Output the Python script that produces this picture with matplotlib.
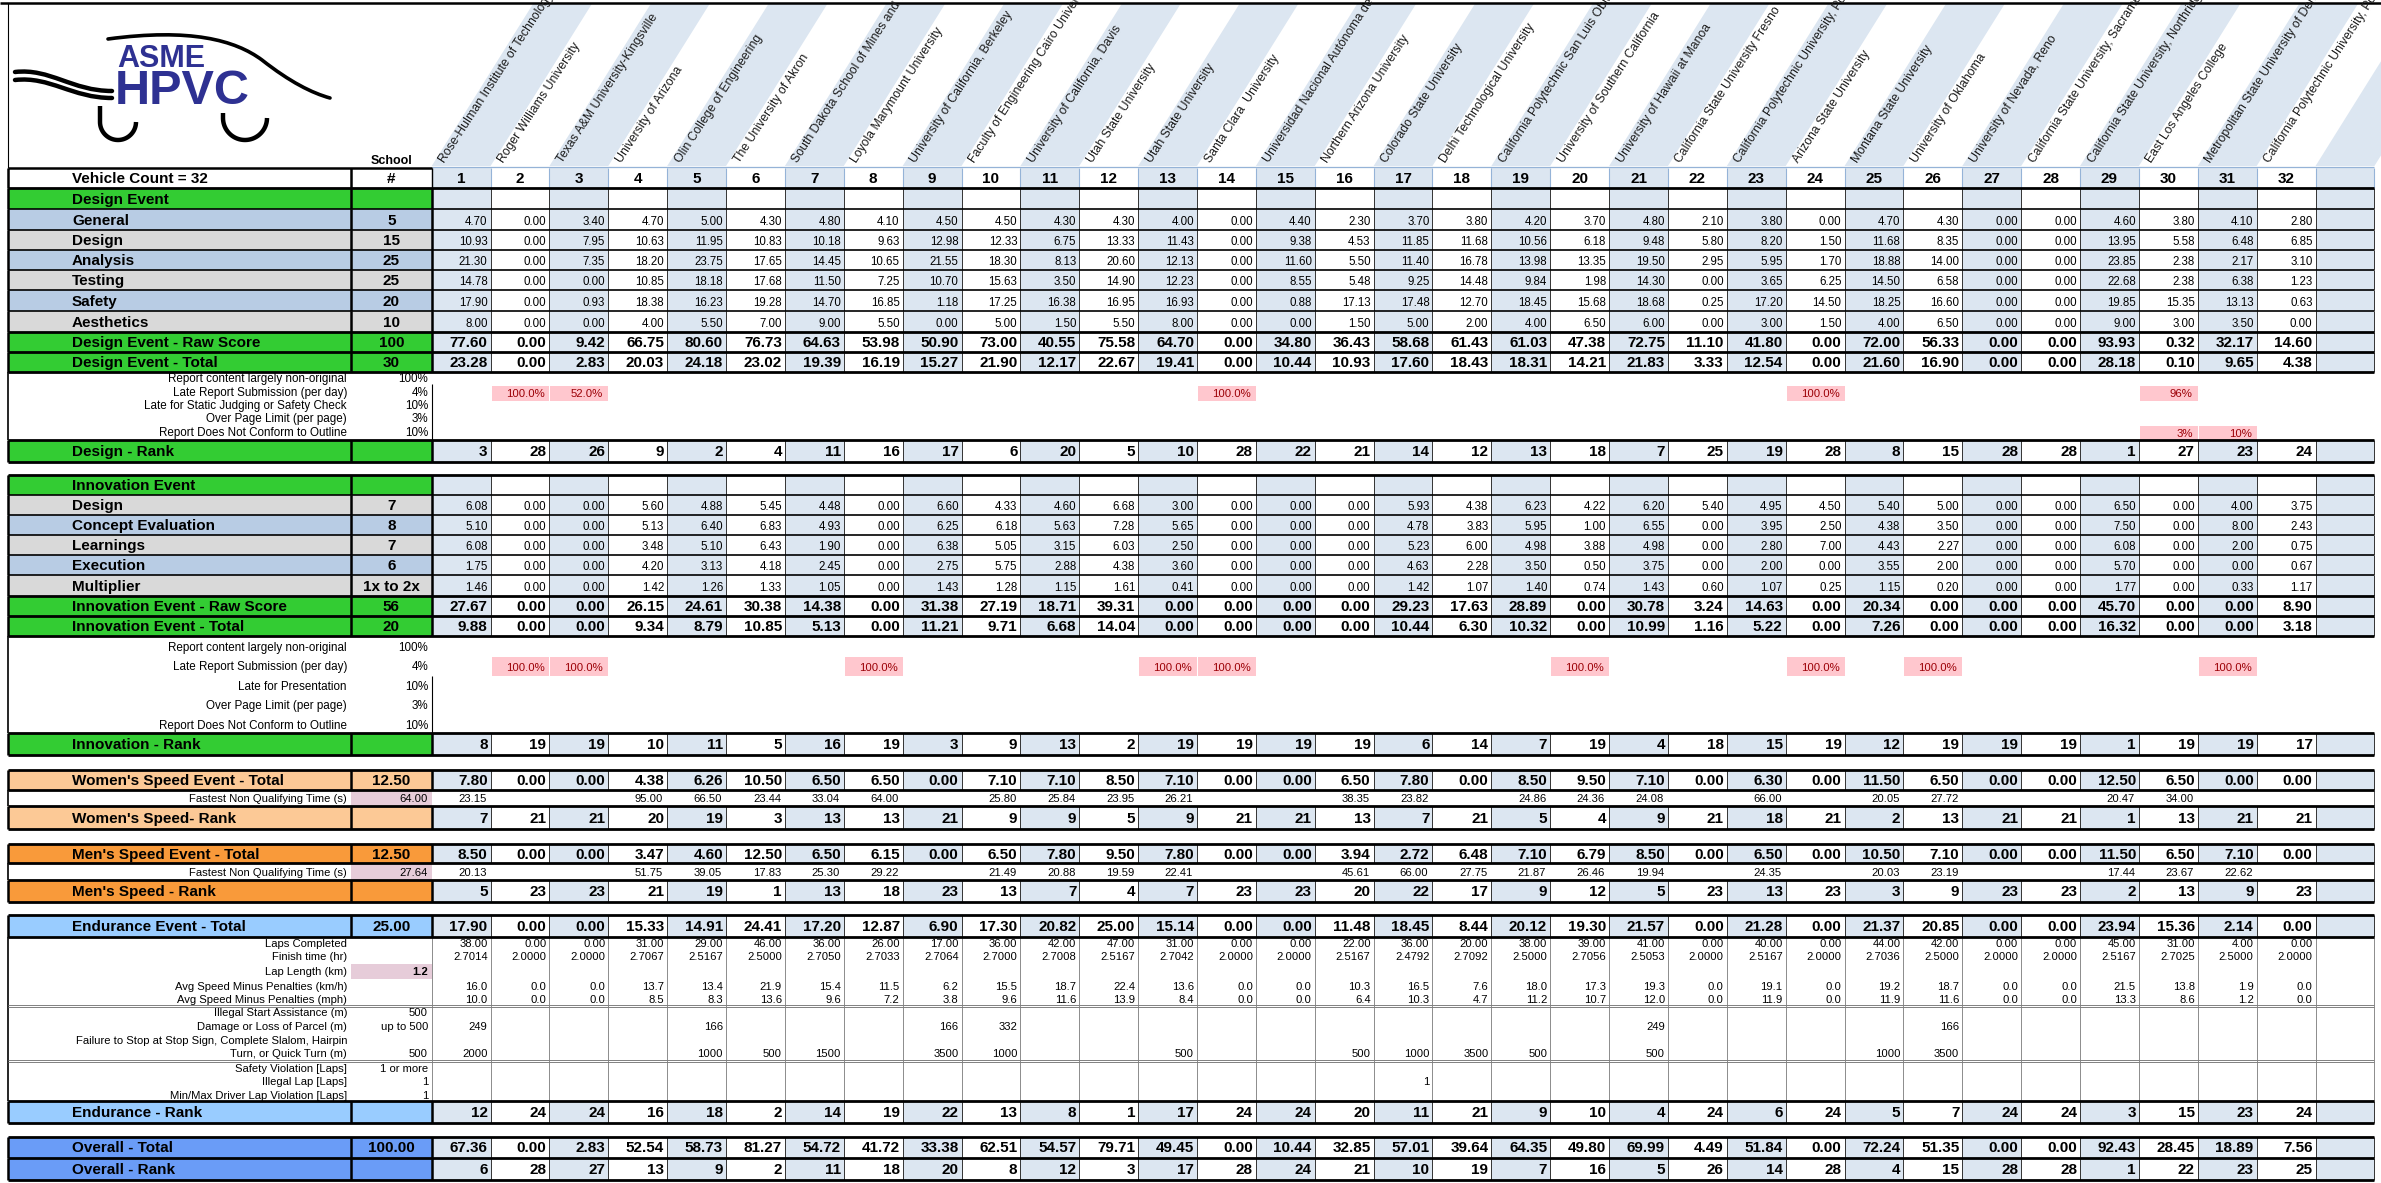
import numpy as np
import matplotlib.pyplot as plt
from matplotlib.patches import Rectangle, Polygon, PathPatch
from matplotlib.path import Path

plt.rcParams['font.family'] = ['Liberation Sans', 'DejaVu Sans']

# ---------------- data ----------------
schools = ['Rose-Hulman Institute of Technology', 'Roger Williams University',
           'Texas A&M University-Kingsville', 'University of Arizona',
           'Olin College of Engineering', 'The University of Akron',
           'South Dakota School of Mines and Technology', 'Loyola Marymount University',
           'University of California, Berkeley', 'Faculty of Engineering Cairo University',
           'University of California, Davis', 'Utah State University', 'Utah State University',
           'Santa Clara  University', 'Universidad Nacional Autónoma de México',
           'Northern Arizona University', 'Colorado State University',
           'Delhi Technological University', 'California Polytechnic San Luis Obispo',
           'University of Southern California', 'University of Hawaii at Manoa',
           'California State University Fresno', 'California Polytechnic University, Pomona',
           'Arizona State University', 'Montana State University', 'University of Oklahoma',
           'University of Nevada, Reno', 'California State University, Sacramento',
           'California State University, Northridge', 'East Los Angeles College',
           'Metropolitan State University of Denver', 'California Polytechnic University, Pomona']

general = [4.70, 0.00, 3.40, 4.70, 5.00, 4.30, 4.80, 4.10, 4.50, 4.50, 4.30, 4.30, 4.00, 0.00, 4.40, 2.30,
           3.70, 3.80, 4.20, 3.70, 4.80, 2.10, 3.80, 0.00, 4.70, 4.30, 0.00, 0.00, 4.60, 3.80, 4.10, 2.80]
design = [10.93, 0.00, 7.95, 10.63, 11.95, 10.83, 10.18, 9.63, 12.98, 12.33, 6.75, 13.33, 11.43, 0.00, 9.38, 4.53,
          11.85, 11.68, 10.56, 6.18, 9.48, 5.80, 8.20, 1.50, 11.68, 8.35, 0.00, 0.00, 13.95, 5.58, 6.48, 6.85]
analysis = [21.30, 0.00, 7.35, 18.20, 23.75, 17.65, 14.45, 10.65, 21.55, 18.30, 8.13, 20.60, 12.13, 0.00, 11.60, 5.50,
            11.40, 16.78, 13.98, 13.35, 19.50, 2.95, 5.95, 1.70, 18.88, 14.00, 0.00, 0.00, 23.85, 2.38, 2.17, 3.10]
testing = [14.78, 0.00, 0.00, 10.85, 18.18, 17.68, 11.50, 7.25, 10.70, 15.63, 3.50, 14.90, 12.23, 0.00, 8.55, 5.48,
           9.25, 14.48, 9.84, 1.98, 14.30, 0.00, 3.65, 6.25, 14.50, 6.58, 0.00, 0.00, 22.68, 2.38, 6.38, 1.23]
safety = [17.90, 0.00, 0.93, 18.38, 16.23, 19.28, 14.70, 16.85, 1.18, 17.25, 16.38, 16.95, 16.93, 0.00, 0.88, 17.13,
          17.48, 12.70, 18.45, 15.68, 18.68, 0.25, 17.20, 14.50, 18.25, 16.60, 0.00, 0.00, 19.85, 15.35, 13.13, 0.63]
aesthetics = [8.00, 0.00, 0.00, 4.00, 5.50, 7.00, 9.00, 5.50, 0.00, 5.00, 1.50, 5.50, 8.00, 0.00, 0.00, 1.50,
              5.00, 2.00, 4.00, 6.50, 6.00, 0.00, 3.00, 1.50, 4.00, 6.50, 0.00, 0.00, 9.00, 3.00, 3.50, 0.00]
design_raw = [77.60, 0.00, 9.42, 66.75, 80.60, 76.73, 64.63, 53.98, 50.90, 73.00, 40.55, 75.58, 64.70, 0.00, 34.80, 36.43,
              58.68, 61.43, 61.03, 47.38, 72.75, 11.10, 41.80, 0.00, 72.00, 56.33, 0.00, 0.00, 93.93, 0.32, 32.17, 14.60]
design_total = [23.28, 0.00, 2.83, 20.03, 24.18, 23.02, 19.39, 16.19, 15.27, 21.90, 12.17, 22.67, 19.41, 0.00, 10.44, 10.93,
                17.60, 18.43, 18.31, 14.21, 21.83, 3.33, 12.54, 0.00, 21.60, 16.90, 0.00, 0.00, 28.18, 0.10, 9.65, 4.38]
design_rank = [3, 28, 26, 9, 2, 4, 11, 16, 17, 6, 20, 5, 10, 28, 22, 21, 14, 12, 13, 18, 7, 25, 19, 28, 8, 15, 28, 28, 1, 27, 23, 24]
design_pen_labels = ['Report content largely non-original', 'Late Report Submission (per day)',
                     'Late for Static Judging or Safety Check', 'Over Page Limit (per page)',
                     'Report Does Not Conform to Outline']
design_pen_rates = ['100%', '4%', '10%', '3%', '10%']
design_late = {2: '100.0%', 3: '52.0%', 14: '100.0%', 24: '100.0%', 30: '96%'}
design_outline = {30: '3%', 31: '10%'}

inn_design = [6.08, 0.00, 0.00, 5.60, 4.88, 5.45, 4.48, 0.00, 6.60, 4.33, 4.60, 6.68, 3.00, 0.00, 0.00, 0.00,
              5.93, 4.38, 6.23, 4.22, 6.20, 5.40, 4.95, 4.50, 5.40, 5.00, 0.00, 0.00, 6.50, 0.00, 4.00, 3.75]
concept = [5.10, 0.00, 0.00, 5.13, 6.40, 6.83, 4.93, 0.00, 6.25, 6.18, 5.63, 7.28, 5.65, 0.00, 0.00, 0.00,
           4.78, 3.83, 5.95, 1.00, 6.55, 0.00, 3.95, 2.50, 4.38, 3.50, 0.00, 0.00, 7.50, 0.00, 8.00, 2.43]
learnings = [6.08, 0.00, 0.00, 3.48, 5.10, 6.43, 1.90, 0.00, 6.38, 5.05, 3.15, 6.03, 2.50, 0.00, 0.00, 0.00,
             5.23, 6.00, 4.98, 3.88, 4.98, 0.00, 2.80, 7.00, 4.43, 2.27, 0.00, 0.00, 6.08, 0.00, 2.00, 0.75]
execution = [1.75, 0.00, 0.00, 4.20, 3.13, 4.18, 2.45, 0.00, 2.75, 5.75, 2.88, 4.38, 3.60, 0.00, 0.00, 0.00,
             4.63, 2.28, 3.50, 0.50, 3.75, 0.00, 2.00, 0.00, 3.55, 2.00, 0.00, 0.00, 5.70, 0.00, 0.00, 0.67]
multiplier = [1.46, 0.00, 0.00, 1.42, 1.26, 1.33, 1.05, 0.00, 1.43, 1.28, 1.15, 1.61, 0.41, 0.00, 0.00, 0.00,
              1.42, 1.07, 1.40, 0.74, 1.43, 0.60, 1.07, 0.25, 1.15, 0.20, 0.00, 0.00, 1.77, 0.00, 0.33, 1.17]
inn_raw = [27.67, 0.00, 0.00, 26.15, 24.61, 30.38, 14.38, 0.00, 31.38, 27.19, 18.71, 39.31, 0.00, 0.00, 0.00, 0.00,
           29.23, 17.63, 28.89, 0.00, 30.78, 3.24, 14.63, 0.00, 20.34, 0.00, 0.00, 0.00, 45.70, 0.00, 0.00, 8.90]
inn_total = [9.88, 0.00, 0.00, 9.34, 8.79, 10.85, 5.13, 0.00, 11.21, 9.71, 6.68, 14.04, 0.00, 0.00, 0.00, 0.00,
             10.44, 6.30, 10.32, 0.00, 10.99, 1.16, 5.22, 0.00, 7.26, 0.00, 0.00, 0.00, 16.32, 0.00, 0.00, 3.18]
inn_rank = [8, 19, 19, 10, 11, 5, 16, 19, 3, 9, 13, 2, 19, 19, 19, 19, 6, 14, 7, 19, 4, 18, 15, 19, 12, 19, 19, 19, 1, 19, 19, 17]
inn_pen_labels = ['Report content largely non-original', 'Late Report Submission (per day)',
                  'Late for Presentation', 'Over Page Limit (per page)', 'Report Does Not Conform to Outline']
inn_pen_rates = ['100%', '4%', '10%', '3%', '10%']
inn_late = {2: '100.0%', 3: '100.0%', 8: '100.0%', 13: '100.0%', 14: '100.0%',
            20: '100.0%', 24: '100.0%', 26: '100.0%', 31: '100.0%'}

women_total = [7.80, 0.00, 0.00, 4.38, 6.26, 10.50, 6.50, 6.50, 0.00, 7.10, 7.10, 8.50, 7.10, 0.00, 0.00, 6.50,
               7.80, 0.00, 8.50, 9.50, 7.10, 0.00, 6.30, 0.00, 11.50, 6.50, 0.00, 0.00, 12.50, 6.50, 0.00, 0.00]
women_fast = [23.15, None, None, 95.00, 66.50, 23.44, 33.04, 64.00, None, 25.80, 25.84, 23.95, 26.21, None, None, 38.35,
              23.82, None, 24.86, 24.36, 24.08, None, 66.00, None, 20.05, 27.72, None, None, 20.47, 34.00, None, None]
women_rank = [7, 21, 21, 20, 19, 3, 13, 13, 21, 9, 9, 5, 9, 21, 21, 13, 7, 21, 5, 4, 9, 21, 18, 21, 2, 13, 21, 21, 1, 13, 21, 21]

men_total = [8.50, 0.00, 0.00, 3.47, 4.60, 12.50, 6.50, 6.15, 0.00, 6.50, 7.80, 9.50, 7.80, 0.00, 0.00, 3.94,
             2.72, 6.48, 7.10, 6.79, 8.50, 0.00, 6.50, 0.00, 10.50, 7.10, 0.00, 0.00, 11.50, 6.50, 7.10, 0.00]
men_fast = [20.13, None, None, 51.75, 39.05, 17.83, 25.30, 29.22, None, 21.49, 20.88, 19.59, 22.41, None, None, 45.61,
            66.00, 27.75, 21.87, 26.46, 19.94, None, 24.35, None, 20.03, 23.19, None, None, 17.44, 23.67, 22.62, None]
men_rank = [5, 23, 23, 21, 19, 1, 13, 18, 23, 13, 7, 4, 7, 23, 23, 20, 22, 17, 9, 12, 5, 23, 13, 23, 3, 9, 23, 23, 2, 13, 9, 23]

end_total = [17.90, 0.00, 0.00, 15.33, 14.91, 24.41, 17.20, 12.87, 6.90, 17.30, 20.82, 25.00, 15.14, 0.00, 0.00, 11.48,
             18.45, 8.44, 20.12, 19.30, 21.57, 0.00, 21.28, 0.00, 21.37, 20.85, 0.00, 0.00, 23.94, 15.36, 2.14, 0.00]
laps = [38, 0, 0, 31, 29, 46, 36, 26, 17, 36, 42, 47, 31, 0, 0, 22, 36, 20, 38, 39, 41, 0, 40, 0, 44, 42, 0, 0, 45, 31, 4, 0]
finish_hr = [2.7014, 2.0000, 2.0000, 2.7067, 2.5167, 2.5000, 2.7050, 2.7033, 2.7064, 2.7000, 2.7008, 2.5167, 2.7042,
             2.0000, 2.0000, 2.5167, 2.4792, 2.7092, 2.5000, 2.7056, 2.5053, 2.0000, 2.5167, 2.0000, 2.7036, 2.5000,
             2.0000, 2.0000, 2.5167, 2.7025, 2.5000, 2.0000]
speed_kmh = [16.0, 0.0, 0.0, 13.7, 13.4, 21.9, 15.4, 11.5, 6.2, 15.5, 18.7, 22.4, 13.6, 0.0, 0.0, 10.3,
             16.5, 7.6, 18.0, 17.3, 19.3, 0.0, 19.1, 0.0, 19.2, 18.7, 0.0, 0.0, 21.5, 13.8, 1.9, 0.0]
speed_mph = [10.0, 0.0, 0.0, 8.5, 8.3, 13.6, 9.6, 7.2, 3.8, 9.6, 11.6, 13.9, 8.4, 0.0, 0.0, 6.4,
             10.3, 4.7, 11.2, 10.7, 12.0, 0.0, 11.9, 0.0, 11.9, 11.6, 0.0, 0.0, 13.3, 8.6, 1.2, 0.0]
parcel_m = {1: 249, 5: 166, 9: 166, 10: 332, 21: 249, 26: 166}
turn_m = {1: 2000, 5: 1000, 6: 500, 7: 1500, 9: 3500, 10: 1000, 13: 500, 16: 500, 17: 1000,
          18: 3500, 19: 500, 21: 500, 25: 1000, 26: 3500}
illegal_lap = {17: 1}
end_labels = ['Laps Completed', 'Finish time (hr)', 'Lap Length (km)', 'Avg Speed Minus Penalties (km/h)',
              'Avg Speed Minus Penalties (mph)', 'Illegal Start Assistance (m)', 'Damage or Loss of Parcel (m)',
              'Failure to Stop at Stop Sign, Complete Slalom, Hairpin', 'Turn, or Quick Turn (m)',
              'Safety Violation [Laps]', 'Illegal Lap [Laps]', 'Min/Max Driver Lap Violation [Laps]']
end_rules = ['', '', '1.2', '', '', '500', 'up to 500', '', '500', '1 or more', '1', '1']
end_rank = [12, 24, 24, 16, 18, 2, 14, 19, 22, 13, 8, 1, 17, 24, 24, 20, 11, 21, 9, 10, 4, 24, 6, 24, 5, 7, 24, 24, 3, 15, 23, 24]

overall_total = [67.36, 0.00, 2.83, 52.54, 58.73, 81.27, 54.72, 41.72, 33.38, 62.51, 54.57, 79.71, 49.45, 0.00, 10.44, 32.85,
                 57.01, 39.64, 64.35, 49.80, 69.99, 4.49, 51.84, 0.00, 72.24, 51.35, 0.00, 0.00, 92.43, 28.45, 18.89, 7.56]
overall_rank = [6, 28, 27, 13, 9, 2, 11, 18, 20, 8, 12, 3, 17, 28, 24, 21, 10, 19, 7, 16, 5, 26, 14, 28, 4, 15, 28, 28, 1, 22, 23, 25]

# ---------------- drawing ----------------
W, H = 2381, 1183
fig = plt.figure(figsize=(W / 100, H / 100), dpi=100)
ax = fig.add_axes([0, 0, 1, 1])
ax.set_xlim(0, W)
ax.set_ylim(H, 0)
ax.axis('off')

SHADE = '#dce6f1'
GREEN = '#33cc33'
BLUEG = '#b8cce4'
GRAY = '#d9d9d9'
PEACH = '#fcc996'
ORANGE = '#f99a3a'
SKY = '#99ccff'
ROYAL = '#6a9cf7'
PINK = '#ffc7ce'
MAUVE = '#e6ccd9'
RED = '#9c0006'

X0, XL, XN = 8, 351, 431.7
CW = 58.87
NC = 33
XR = XN + NC * CW
PEN_FS = 8.4
DET_FS = 8.1


def colx(i):
    return XN + i * CW


def rect(x0, y0, x1, y1, fc, z=1):
    ax.add_patch(Rectangle((x0, y0), x1 - x0, y1 - y0, facecolor=fc, edgecolor='none', zorder=z))


def hline(y, x0=X0, x1=XR, lw=0.8, c='black'):
    ax.plot([x0, x1], [y, y], color=c, lw=lw, solid_capstyle='butt', zorder=4)


def vline(x, y0, y1, lw=0.6, c='#333333'):
    ax.plot([x, x], [y0, y1], color=c, lw=lw, solid_capstyle='butt', zorder=4)


def txt(x, y, s, size=8, bold=False, ha='left', va='center', color='black'):
    ax.text(x, y, s, fontsize=size, fontweight='bold' if bold else 'normal',
            ha=ha, va=va, color=color, zorder=6)


def fmtv(v, fmt):
    return fmt.format(v) if not isinstance(v, str) else v


def main_row(y0, y1, label, num, color, vals=None, fmt='{:.2f}', big=True, shade=True, lsize=11):
    rect(X0, y0, XL, y1, color)
    rect(XL, y0, XN, y1, color)
    for i in range(NC):
        rect(colx(i), y0, colx(i + 1), y1, SHADE if (shade and i % 2 == 0) else 'white')
    for i in range(NC + 1):
        vline(colx(i), y0, y1, lw=0.7)
    vline(X0, y0, y1, lw=1.8, c='black')
    vline(XL, y0, y1, lw=1.8, c='black')
    vline(XN, y0, y1, lw=1.8, c='black')
    ym = (y0 + y1) / 2 + 1
    txt(72, ym, label, lsize, bold=True)
    txt((XL + XN) / 2, ym, num, lsize, bold=True, ha='center')
    if vals is not None:
        for i, v in enumerate(vals):
            if big:
                txt(colx(i + 1) - 3, ym, fmtv(v, fmt), 11, bold=True, ha='right')
            else:
                txt(colx(i + 1) - 3, y1 - 2, fmtv(v, fmt), 8.3, ha='right', va='bottom')


# header
hline(3, 0, W, lw=1.8)
vline(X0, 3, 168, lw=0.8, c='black')
ang = np.deg2rad(58)
dx = (166 - 4) / np.tan(ang)
clip = Rectangle((0, 4), W, 164, transform=ax.transData)
for i in range(0, NC, 2):
    p = Polygon([(colx(i), 166), (colx(i + 1), 166), (colx(i + 1) + dx, 4), (colx(i) + dx, 4)],
                facecolor=SHADE, edgecolor='none', zorder=1)
    ax.add_patch(p)
    p.set_clip_path(clip)
hline(166.5, XN, XR, lw=0.9, c='#95b3d7')
for i, name in enumerate(schools):
    t = ax.text(colx(i) + 13, 163, name, fontsize=8.8, rotation=57, rotation_mode='anchor',
                ha='left', va='baseline', color='#1a1a1a', zorder=6)
    t.set_clip_path(clip)
txt(392, 164, 'School', 9, bold=True, ha='center', va='baseline')

# logo
logo_c = '#2e3192'
ax.text(117, 67, 'ASME', fontsize=22, fontweight='bold', color=logo_c, va='baseline', zorder=6)
ax.text(115, 104, 'HPVC', fontsize=35, fontweight='bold', color=logo_c, va='baseline', zorder=6)
arc = Path([(108, 39), (190, 28), (235, 40), (262, 60), (290, 82), (312, 93), (330, 98)],
           [Path.MOVETO, Path.CURVE4, Path.CURVE4, Path.CURVE4, Path.CURVE4, Path.CURVE4, Path.CURVE4])
ax.add_patch(PathPatch(arc, facecolor='none', edgecolor='black', lw=2.6, capstyle='round', zorder=5))
for (ya, yb) in [(72, 91), (80, 98)]:
    sw = Path([(15, ya), (50, ya - 4), (72, yb), (112, yb)],
              [Path.MOVETO, Path.CURVE4, Path.CURVE4, Path.CURVE4])
    ax.add_patch(PathPatch(sw, facecolor='none', edgecolor='black', lw=3.2, capstyle='round', zorder=5))
for (cxw, cyw, r, ytop) in [(118, 122, 18, 106), (245, 118, 22, 113)]:
    th = np.linspace(np.pi, 0, 40)
    xs = np.concatenate([[cxw - r], cxw + r * np.cos(th)])
    ys = np.concatenate([[ytop], cyw + r * np.sin(th)])
    ax.plot(xs, ys, color='black', lw=3.2, solid_capstyle='butt', zorder=5)

# vehicle row
y0, y1 = 168, 188
rect(X0, y0, XN, y1, 'white')
for i in range(NC):
    rect(colx(i), y0, colx(i + 1), y1, SHADE if i % 2 == 0 else 'white')
for i in range(NC + 1):
    vline(colx(i), y0, y1, lw=0.8, c='#95b3d7')
vline(X0, y0, y1, lw=1.8, c='black')
vline(XL, y0, y1, lw=1.8, c='black')
vline(XN, y0, y1, lw=1.0, c='black')
hline(y0, X0, XN, lw=1.8)
txt(72, 179, 'Vehicle Count = 32', 11, bold=True)
txt((XL + XN) / 2, 179, '#', 11, bold=True, ha='center')
for i in range(32):
    txt(colx(i) + CW / 2, 179, str(i + 1), 11, bold=True, ha='center')

# design event
b = [188, 209, 230, 250, 270, 290, 311, 332, 352, 372]
main_row(b[0], b[1], 'Design Event', '', GREEN)
subs = [('General', '5', BLUEG, general), ('Design', '15', GRAY, design), ('Analysis', '25', BLUEG, analysis),
        ('Testing', '25', GRAY, testing), ('Safety', '20', BLUEG, safety), ('Aesthetics', '10', GRAY, aesthetics)]
for k, (lab, n, c, v) in enumerate(subs):
    main_row(b[k + 1], b[k + 2], lab, n, c, v, big=False)
main_row(b[7], b[8], 'Design Event - Raw Score', '100', GREEN, design_raw)
main_row(b[8], b[9], 'Design Event - Total', '30', GREEN, design_total)
for k, y in enumerate(b):
    hline(y, lw=2.0 if k in (0, 7, 8, 9) else 1.2)

pen_y = [379, 393, 406, 419, 433]
vline(X0, 372, 440, lw=1.2, c='black')
vline(XN, 384, 440, lw=0.8, c='black')
for y, lab, r in zip(pen_y, design_pen_labels, design_pen_rates):
    txt(347, y, lab, PEN_FS, ha='right')
    txt(428, y, r, PEN_FS, ha='right')
for vmap, y in [(design_late, pen_y[1]), (design_outline, pen_y[4])]:
    for k, s in vmap.items():
        rect(colx(k - 1) + 1, y - 7.5, colx(k), y + 7.5, PINK, z=2)
        txt(colx(k) - 5, y + 0.5, s, 8.2, ha='right', color=RED)

main_row(440, 462, 'Design - Rank', '', GREEN, design_rank, fmt='{:d}')
hline(440, lw=2.0)
hline(462, lw=2.0)

# innovation event
b = [475, 495, 515, 535, 555, 575, 596, 616, 636]
main_row(b[0], b[1], 'Innovation Event', '', GREEN)
subs = [('Design', '7', GRAY, inn_design), ('Concept Evaluation', '8', BLUEG, concept),
        ('Learnings', '7', GRAY, learnings), ('Execution', '6', BLUEG, execution),
        ('Multiplier', '1x to 2x', GRAY, multiplier)]
for k, (lab, n, c, v) in enumerate(subs):
    main_row(b[k + 1], b[k + 2], lab, n, c, v, big=False)
main_row(b[6], b[7], 'Innovation Event - Raw Score', '56', GREEN, inn_raw)
main_row(b[7], b[8], 'Innovation Event - Total', '20', GREEN, inn_total)
for k, y in enumerate(b):
    hline(y, lw=2.0 if k in (0, 6, 7, 8) else 1.2)

pen_y = [648, 667, 687, 706, 726]
vline(X0, 636, 733, lw=1.2, c='black')
vline(XN, 676, 733, lw=0.8, c='black')
for y, lab, r in zip(pen_y, inn_pen_labels, inn_pen_rates):
    txt(347, y, lab, PEN_FS, ha='right')
    txt(428, y, r, PEN_FS, ha='right')
for k, s in inn_late.items():
    rect(colx(k - 1) + 1, 657, colx(k), 676, PINK, z=2)
    txt(colx(k) - 5, pen_y[1] + 0.5, s, 8.2, ha='right', color=RED)

main_row(733, 755, 'Innovation - Rank', '', GREEN, inn_rank, fmt='{:d}')
hline(733, lw=2.0)
hline(755, lw=2.0)


def speed_block(yt, ym1, ym2, yb, title, rank_title, color, total, fast, fast_ref, rank):
    main_row(yt, ym1, title, '12.50', color, total)
    # fastest time row
    rect(XL, ym1, XN, ym2, MAUVE)
    vline(X0, ym1, ym2, lw=1.2, c='black')
    vline(XR, ym1, ym2, lw=0.6)
    txt(347, (ym1 + ym2) / 2 + 1, 'Fastest Non Qualifying Time (s)', DET_FS, ha='right')
    txt(428, (ym1 + ym2) / 2 + 1, fast_ref, DET_FS, ha='right')
    for i, v in enumerate(fast):
        if v is not None:
            txt(colx(i + 1) - 4, (ym1 + ym2) / 2 + 1, '{:.2f}'.format(v), DET_FS, ha='right')
    main_row(ym2, yb, rank_title, '', color, rank, fmt='{:d}')
    for y in (yt, ym1, ym2, yb):
        hline(y, lw=2.0)


speed_block(770, 790, 806, 829, "Women's Speed Event - Total", "Women's Speed- Rank", PEACH,
            women_total, women_fast, '64.00', women_rank)
speed_block(844, 863, 880, 902, "Men's Speed Event - Total", "Men's Speed - Rank", ORANGE,
            men_total, men_fast, '27.64', men_rank)

# endurance
main_row(915, 937, 'Endurance Event - Total', '25.00', SKY, end_total)
for i in range(NC + 1):
    vline(colx(i), 937, 1101, lw=0.6, c='#7a7a7a')
vline(X0, 937, 1101, lw=1.2, c='black')
ey = [944, 957, 972, 987, 1000, 1013, 1027, 1041, 1054, 1069, 1082, 1096]
rect(XL, 964, XN, 979, MAUVE)
for y, lab, r in zip(ey, end_labels, end_rules):
    txt(347, y, lab, DET_FS, ha='right')
    txt(428, y, r, DET_FS, bold=(r == '1.2'), ha='right')
detail_rows = [(ey[0], laps, '{:.2f}'), (ey[1], finish_hr, '{:.4f}'),
               (ey[3], speed_kmh, '{:.1f}'), (ey[4], speed_mph, '{:.1f}')]
for y, vals, f in detail_rows:
    for i, v in enumerate(vals):
        txt(colx(i + 1) - 3, y, f.format(v), DET_FS, ha='right')
for y, vmap in [(ey[6], parcel_m), (ey[8], turn_m), (ey[10], illegal_lap)]:
    for k, v in vmap.items():
        txt(colx(k) - 3, y, str(v), DET_FS, ha='right')
for y in (1006, 1061):
    hline(y - 1, lw=0.7, c='#808080')
    hline(y + 1, lw=0.7, c='#808080')
main_row(1101, 1123, 'Endurance - Rank', '', SKY, end_rank, fmt='{:d}')
for y in (915, 937, 1101, 1123):
    hline(y, lw=2.0)

# overall
main_row(1137, 1158, 'Overall - Total', '100.00', ROYAL, overall_total)
main_row(1158, 1180, 'Overall - Rank', '', ROYAL, overall_rank, fmt='{:d}')
for y in (1137, 1158, 1180):
    hline(y, lw=2.0)

fig.savefig('out.png', dpi=100)
